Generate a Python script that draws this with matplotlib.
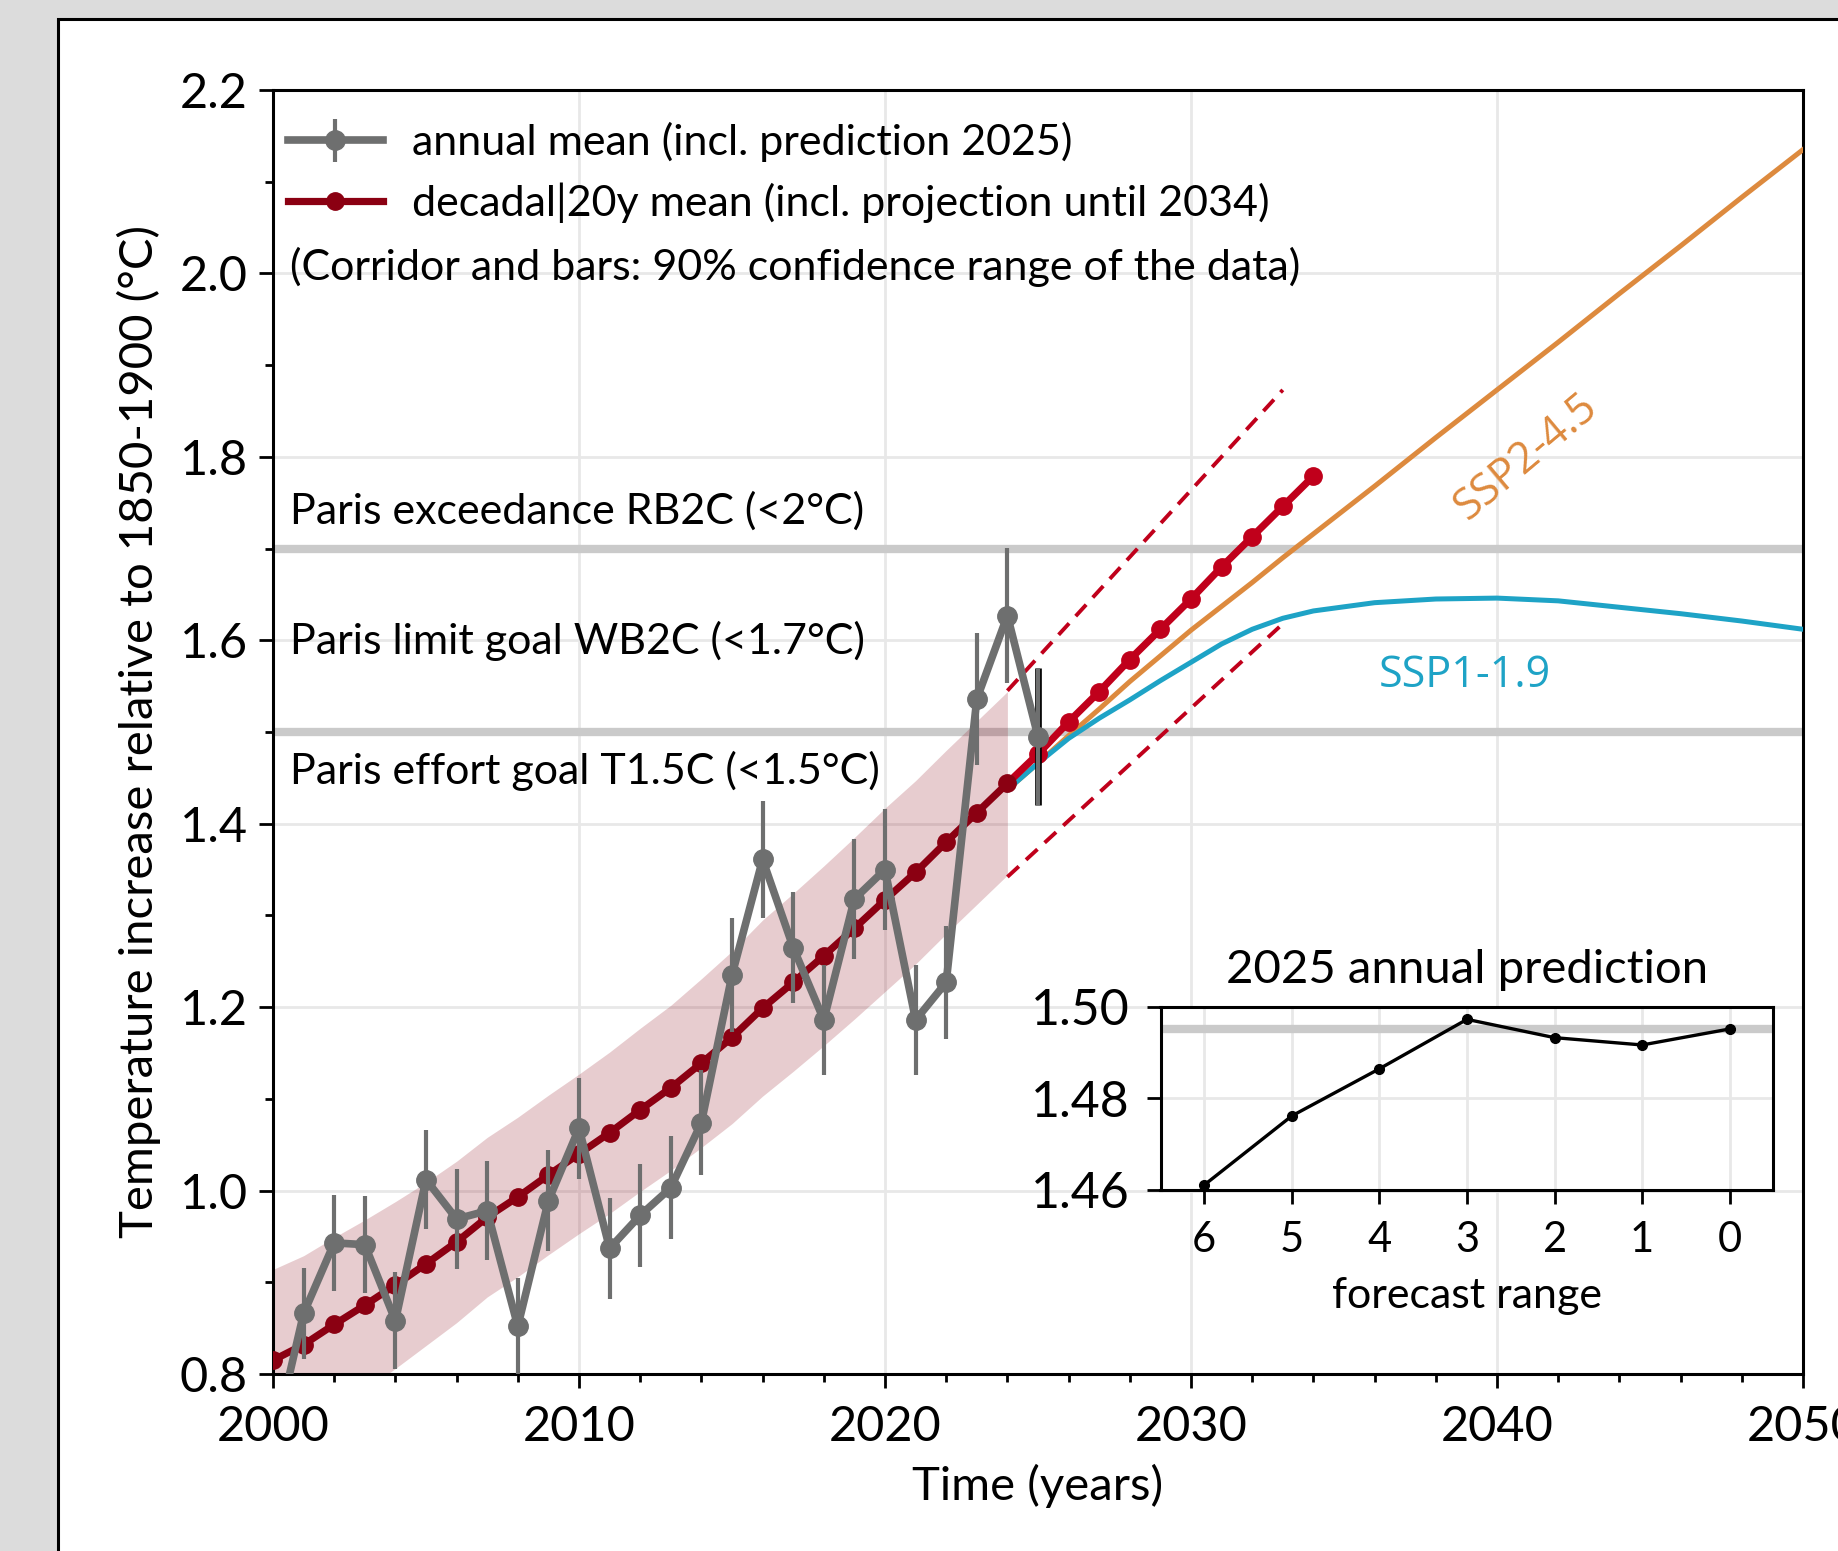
import numpy as np
import matplotlib
matplotlib.use('Agg')
import matplotlib.pyplot as plt
from matplotlib.patches import Rectangle
from matplotlib.ticker import FormatStrFormatter, MultipleLocator

plt.rcParams['font.family'] = ['Lato', 'DejaVu Sans']

# ---------------- data ----------------
years_annual = list(range(2000, 2026))
annual_mean = [0.722, 0.866, 0.943, 0.941, 0.858, 1.012, 0.969, 0.978, 0.852, 0.989,
               1.068, 0.937, 0.973, 1.003, 1.074, 1.235, 1.361, 1.265, 1.186, 1.318,
               1.350, 1.186, 1.227, 1.536, 1.627, 1.495]
annual_err = [0.050, 0.050, 0.052, 0.053, 0.053, 0.054, 0.054, 0.054, 0.053, 0.055,
              0.055, 0.055, 0.056, 0.056, 0.057, 0.062, 0.064, 0.061, 0.060, 0.065,
              0.066, 0.060, 0.062, 0.072, 0.074, 0.075]

years_decadal = list(range(2000, 2025))
decadal_mean = [0.815, 0.832, 0.854, 0.875, 0.897, 0.920, 0.944, 0.971, 0.993, 1.017,
                1.040, 1.063, 1.088, 1.112, 1.139, 1.167, 1.199, 1.227, 1.256, 1.286,
                1.317, 1.347, 1.380, 1.412, 1.444]
corridor_half = [0.099, 0.097, 0.095, 0.093, 0.091, 0.089, 0.088, 0.087, 0.087, 0.087,
                 0.087, 0.088, 0.089, 0.090, 0.092, 0.094, 0.096, 0.097, 0.098, 0.099,
                 0.100, 0.100, 0.100, 0.100, 0.100]

years_projection = list(range(2025, 2035))
decadal_projection = [1.476, 1.511, 1.544, 1.579, 1.612, 1.645, 1.680, 1.713, 1.746, 1.779]

trend_years = [2024, 2033]
trend_upper = [1.545, 1.873]
trend_lower = [1.342, 1.618]

ssp_years = [2024, 2025, 2026, 2027, 2028, 2029, 2030, 2031, 2032, 2033, 2034, 2036,
             2038, 2040, 2042, 2044, 2046, 2048, 2050]
ssp245 = [1.437, 1.466, 1.496, 1.525, 1.555, 1.583, 1.611, 1.637, 1.663, 1.690, 1.716,
          1.768, 1.821, 1.873, 1.925, 1.978, 2.030, 2.083, 2.135]
ssp119 = [1.437, 1.466, 1.493, 1.515, 1.535, 1.556, 1.576, 1.596, 1.612, 1.624, 1.632,
          1.641, 1.645, 1.646, 1.643, 1.636, 1.629, 1.621, 1.612]

paris_levels = [1.5, 1.7]
paris_labels = ['Paris exceedance RB2C (<2°C)', 'Paris limit goal WB2C (<1.7°C)',
                'Paris effort goal T1.5C (<1.5°C)']
paris_label_y = [1.741, 1.599, 1.458]

forecast_range = [6, 5, 4, 3, 2, 1, 0]
prediction_2025 = [1.4611, 1.4762, 1.4865, 1.4973, 1.4933, 1.4917, 1.4952]
prediction_final = 1.4952

# ---------------- colours ----------------
GRAY = '#6e6f6f'
DARKRED = '#8b0012'
RED = '#c0001b'
ORANGE = '#dd8a3e'
TEAL = '#1ea3c6'
BAND = '#cacaca'
GRID = '#e8e8e8'

W, H = 1838, 1551
fig = plt.figure(figsize=(W / 100, H / 100), dpi=100, facecolor='#dcdcdc')
panel = Rectangle((58 / W, -0.05), 1.0, (H - 19) / H + 0.05, transform=fig.transFigure,
                  facecolor='white', edgecolor='black', lw=2.2, zorder=-10)
fig.patches.append(panel)

ax = fig.add_axes([273 / W, (H - 1374) / H, (1803 - 273) / W, (1374 - 90) / H])
ax.set_facecolor('white')

ax.set_xlim(2000, 2050)
ax.set_ylim(0.8, 2.2)
ax.xaxis.set_major_locator(MultipleLocator(10))
ax.xaxis.set_minor_locator(MultipleLocator(2))
ax.yaxis.set_major_locator(MultipleLocator(0.2))
ax.yaxis.set_minor_locator(MultipleLocator(0.1))
ax.yaxis.set_major_formatter(FormatStrFormatter('%.1f'))
ax.tick_params(which='major', length=10, width=2, labelsize=35, pad=8, direction='out')
ax.tick_params(axis='x', which='major', pad=12)
ax.tick_params(which='minor', length=5.5, width=2, direction='out')
ax.set_axisbelow(True)
ax.grid(which='major', color=GRID, lw=2)
for s in ax.spines.values():
    s.set_linewidth(2.2)

for lv in paris_levels:
    ax.axhline(lv, color=BAND, lw=6, zorder=1)

dm = np.array(decadal_mean)
ch = np.array(corridor_half)
ax.fill_between(years_decadal, dm - ch, dm + ch, color=DARKRED, alpha=0.2, lw=0, zorder=2)

ax.plot(trend_years, trend_upper, color=RED, lw=2.8, ls=(0, (4.0, 2.5)), zorder=3)
ax.plot(trend_years, trend_lower, color=RED, lw=2.8, ls=(0, (4.0, 2.5)), zorder=3)

ax.plot(ssp_years, ssp245, color=ORANGE, lw=3.6, zorder=3)
ax.plot(ssp_years, ssp119, color=TEAL, lw=3.6, zorder=3.1)

px = [years_decadal[-1]] + years_projection
py = [decadal_mean[-1]] + decadal_projection
ax.plot(px, py, color=RED, lw=5.2, marker='o', ms=12.5, markevery=list(range(1, len(px))), zorder=4)
hist_line, = ax.plot(years_decadal, decadal_mean, color=DARKRED, lw=5.2, marker='o', ms=12.5,
                     zorder=4.5, label='decadal|20y mean (incl. projection until 2034)')

ax.errorbar([years_annual[-1]], [annual_mean[-1]], yerr=[annual_err[-1]], fmt='none',
            ecolor='black', elinewidth=4.8, capsize=0, zorder=5.8)
eb = ax.errorbar(years_annual, annual_mean, yerr=annual_err, color=GRAY, lw=5.5, marker='o',
                 ms=14, elinewidth=3, capsize=0, zorder=6,
                 label='annual mean (incl. prediction 2025)')

leg = ax.legend(handles=[eb, hist_line], loc='upper left', bbox_to_anchor=(0.0098, 0.975),
                frameon=False, fontsize=31, handlelength=2.2, handletextpad=0.68,
                labelspacing=0.47, borderaxespad=0, borderpad=0)
ax.text(0.0108, 0.862, '(Corridor and bars: 90% confidence range of the data)',
        transform=ax.transAxes, fontsize=31, va='center', ha='left')

for lab, yv in zip(paris_labels, paris_label_y):
    ax.text(2000.57, yv, lab, fontsize=31, va='center', ha='left', zorder=7)

ax.text(2040.95, 1.800, 'SSP2-4.5', color=ORANGE, fontsize=31, rotation=40,
        ha='center', va='center', rotation_mode='anchor', family=['Open Sans', 'DejaVu Sans'])
ax.text(2038.95, 1.561, 'SSP1-1.9', color=TEAL, fontsize=31,
        ha='center', va='center', family=['Open Sans', 'DejaVu Sans'])

ax.set_xlabel('Time (years)', fontsize=34)
ax.set_ylabel('Temperature increase relative to 1850-1900 (°C)', fontsize=34)
ax.xaxis.set_label_coords(0.5, -0.070)
ax.yaxis.set_label_coords(-0.0732, 0.5)

# ---------------- inset ----------------
axin = fig.add_axes([1160.5 / W, (H - 1190) / H, (1773.5 - 1160.5) / W, (1190 - 1007) / H])
axin.set_facecolor('white')
axin.set_axisbelow(True)
axin.grid(color=GRID, lw=2)
axin.axhline(prediction_final, color=BAND, lw=6, zorder=2)
axin.plot(forecast_range, prediction_2025, color='black', lw=2.4, marker='o', ms=7, zorder=3)
axin.set_xlim(6.5, -0.5)
axin.set_ylim(1.46, 1.50)
axin.set_xticks(forecast_range)
axin.set_yticks([1.46, 1.48, 1.50])
axin.yaxis.set_major_formatter(FormatStrFormatter('%.2f'))
axin.tick_params(axis='y', labelsize=36, length=10, width=2, pad=12)
axin.tick_params(axis='x', labelsize=30, length=10, width=2, pad=12)
for s in axin.spines.values():
    s.set_linewidth(2.2)
axin.set_title('2025 annual prediction', fontsize=34, pad=17)
axin.set_xlabel('forecast range', fontsize=31, labelpad=13)

fig.savefig('out.png', dpi=100, facecolor=fig.get_facecolor())
